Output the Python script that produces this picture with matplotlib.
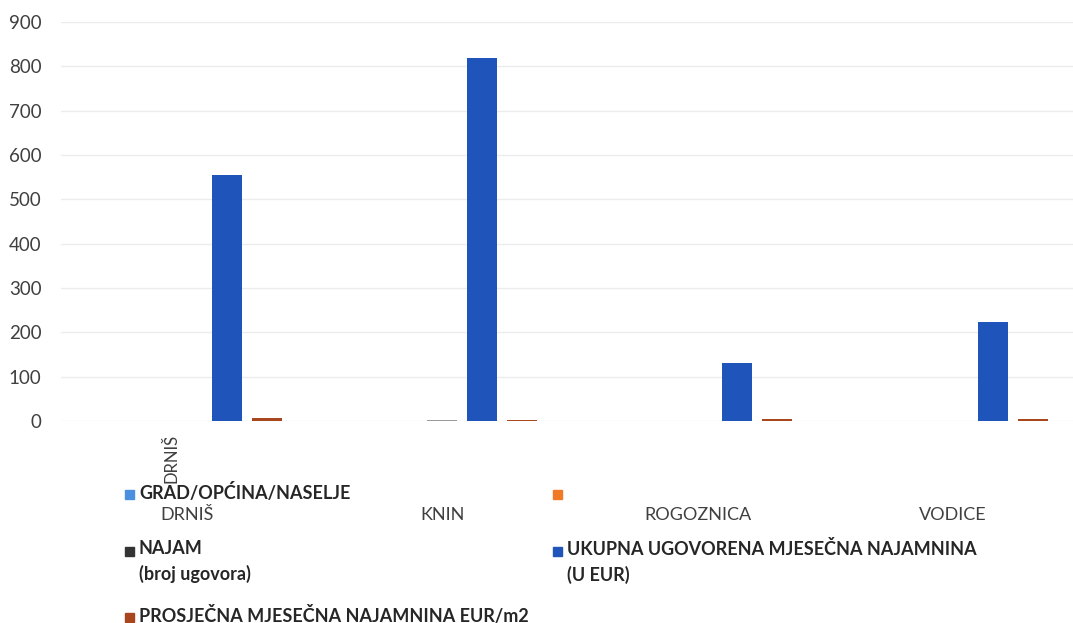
import matplotlib.pyplot as plt
from matplotlib.patches import Rectangle
from matplotlib.transforms import blended_transform_factory
import numpy as np

plt.rcParams['font.family'] = ['Lato', 'DejaVu Sans']

# Podaci
gradovi = ['DRNIŠ', 'KNIN', 'ROGOZNICA', 'VODICE']
grad_opcina = [0, 0, 0, 0]
prazno = [0, 0, 0, 0]
najam_broj = [1, 3, 1, 1]
ukupna_najamnina = [555, 819, 131, 223]
prosjecna_najamnina = [6.2, 2.0, 4.3, 3.6]

nazivi = ['GRAD/OPĆINA/NASELJE', '', 'NAJAM\n(broj ugovora)',
          'UKUPNA UGOVORENA MJESEČNA NAJAMNINA\n(U EUR)',
          'PROSJEČNA MJESEČNA NAJAMNINA EUR/m2']
boje = ['#4a8fe0', '#f07a26', '#9a9a9a', '#1f54bb', '#a8461e']
boje_legende = ['#4a8fe0', '#f07a26', '#333333', '#1f54bb', '#a8461e']
serije = [grad_opcina, prazno, najam_broj, ukupna_najamnina, prosjecna_najamnina]

W, H = 1073, 623
fig = plt.figure(figsize=(W / 100, H / 100), dpi=100)
ax = fig.add_axes([61 / W, 1 - 421 / H, 1 - 61 / W, 399 / H])

x = np.arange(len(gradovi))
kat = 255.3  # piksela po kategoriji
sirina = 30 / kat
korak = 40 / kat
for i, vrijednosti in enumerate(serije):
    ax.bar(x + (i - 2) * korak, vrijednosti, sirina, color=boje[i], zorder=3)

ax.set_xlim(-0.493, -0.493 + (W - 61) / kat)
ax.set_ylim(0, 900)
ax.set_yticks(range(0, 901, 100))
ax.yaxis.grid(True, color='#ececec', linewidth=1, zorder=0)
ax.set_xticks([])
for s in ax.spines.values():
    s.set_visible(False)
ax.tick_params(axis='y', length=0, labelsize=13.5, colors='#404040', pad=14)

# Nazivi kategorija (ispod osi)
trans = blended_transform_factory(ax.transData, ax.transAxes)
for xi, g in zip(x, gradovi):
    ax.text(xi, -94 / 399, g, transform=trans, ha='center', va='center',
            fontsize=13, color='#404040')

# Zaostali okomiti natpis
ax.text(-0.06, -37 / 399, 'DRNIŠ', transform=trans, rotation=90,
        ha='center', va='center', fontsize=12, color='#404040')

# Legenda (rucno slozena kao u originalu)
polozaji = [(125, 494), (553, 494), (125, 551), (553, 551), (125, 617)]
for (px, py), naziv, boja in zip(polozaji, nazivi, boje_legende):
    fig.add_artist(Rectangle((px / W, 1 - (py + 5) / H), 9 / W, 9 / H,
                             transform=fig.transFigure, color=boja))
    fig.text((px + 14) / W, 1 - (py - 11) / H, naziv, ha='left', va='top',
             fontsize=13, fontweight='bold', color='#262626', linespacing=1.5,
             transform=fig.transFigure)

fig.savefig('out.png', dpi=100)
